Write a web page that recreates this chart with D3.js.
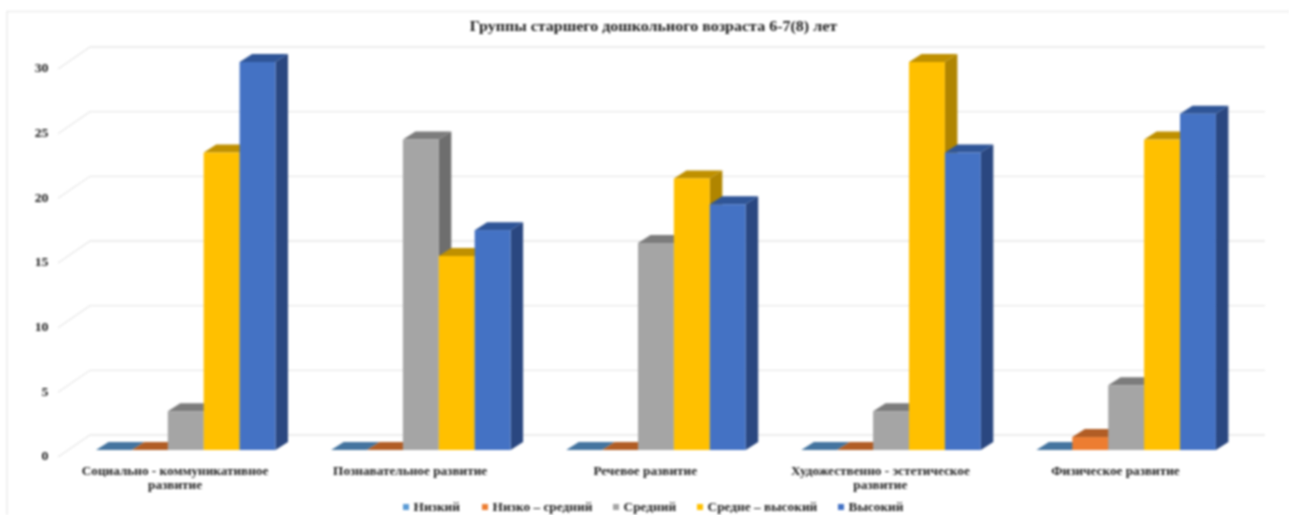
<!DOCTYPE html>
<html><head><meta charset="utf-8">
<script src="https://cdn.jsdelivr.net/npm/d3@7"></script>
<style>html,body{margin:0;padding:0;background:#fff;overflow:hidden}svg{display:block;filter:blur(0.9px)}text{font-family:"Liberation Serif",serif;font-weight:bold;fill:#1a1a1a}</style>
</head><body><svg id="c" width="1289" height="515"></svg>
<script>
const categories=["Социально - коммуникативное развитие","Познавательное развитие","Речевое развитие","Художественно - эстетическое развитие","Физическое развитие"];
const categoryLines=[["Социально - коммуникативное","развитие"],["Познавательное развитие"],["Речевое развитие"],["Художественно - эстетическое","развитие"],["Физическое развитие"]];
const seriesNames=["Низкий","Низко – средний","Средний","Средне – высокий","Высокий"];
const low=[0,0,0,0,0];
const lowMid=[0,0,0,0,1];
const mid=[3,24,16,3,5];
const midHigh=[23,15,21,30,24];
const high=[30,17,19,23,26];
const seriesValues=[low,lowMid,mid,midHigh,high];
const frontColors=["#5b9bd5","#ed7d31","#a5a5a5","#ffc000","#4472c4"];
const topColors=["#44749f","#b15d25","#7c7c7c","#bf9000","#2f5597"];
const sideColors=["#2f5f8a","#a0521f","#6e6e6e","#b08500","#2a4780"];
const yTicks=[0,5,10,15,20,25,30];

const widen=(sel,k)=>sel.each(function(){
  const n=this.getComputedTextLength();
  d3.select(this).attr("textLength",n*k).attr("lengthAdjust","spacingAndGlyphs");
});

const svg=d3.select("#c");
const root=svg.append("g");

root.append("path").attr("d","M7,515L7,11.5L1289,11.5").attr("fill","none").attr("stroke","#ececec").attr("stroke-width",1.6);

const depthX=12.5,depthY=8;
const y=d3.scaleLinear().domain([0,30]).range([450,62]);
const x0=d3.scaleBand().domain(categories).range([60.5,1236]).padding(0);
const x1=d3.scaleBand().domain(seriesNames).range([0,179.5]);
const groupOffset=35.5;

// back wall gridlines and side wall lines
const backX0=90,backX1=1265,sideX0=58;
const backY=v=>y(v)-15;
const sideY=v=>y(v)+7;
root.append("g").selectAll("path").data(yTicks).join("path")
  .attr("d",v=>`M${sideX0},${sideY(v)}L${backX0},${backY(v)}L${backX1},${backY(v)}`)
  .attr("fill","none").attr("stroke","#e8e8e8").attr("stroke-width",1.3);

// y labels through an axis
const axis=d3.axisLeft(d3.scaleLinear().domain([0,30]).range([y(0)+6,y(30)+6])).tickValues(yTicks).tickSize(0).tickPadding(0);
const ax=root.append("g").attr("transform","translate(48.5,0)").call(axis);
ax.select(".domain").remove();
ax.selectAll("text").attr("font-size",12).attr("font-family","Liberation Serif").call(widen,1.15);

// bars: drawn series by series, left to right
const bars=root.append("g");
categories.forEach((c,ci)=>{
  seriesNames.forEach((s,si)=>{
    const v=seriesValues[si][ci];
    const xl=x0(c)+groupOffset+x1(s),w=x1.bandwidth(),yt=y(v),yb=y(0);
    const g=bars.append("g");
    g.append("path").attr("fill",sideColors[si])
      .attr("d",`M${xl+w},${yt}L${xl+w+depthX},${yt-depthY}L${xl+w+depthX},${yb-depthY}L${xl+w},${yb}Z`);
    g.append("path").attr("fill",topColors[si])
      .attr("d",`M${xl},${yt}L${xl+depthX},${yt-depthY}L${xl+w+depthX},${yt-depthY}L${xl+w},${yt}Z`);
    if(v>0) g.append("rect").attr("x",xl).attr("y",yt).attr("width",w).attr("height",yb-yt).attr("fill",frontColors[si]);
  });
});

// category labels
const labels=root.append("g");
categories.forEach((c,ci)=>{
  const cx=x0(c)+x0.bandwidth()/2-3;
  categoryLines[ci].forEach((l,i)=>{
    labels.append("text").attr("text-anchor","middle").attr("font-size",11.5)
      .attr("x",cx).attr("y",474.5+i*14.5).text(l).call(widen,1.15);
  });
});

// title
root.append("text").attr("x",653.5).attr("y",31).attr("text-anchor","middle").attr("font-size",14)
  .text("Группы старшего дошкольного возраста 6-7(8) лет").call(widen,1.143);

// legend
const legendX=[403,482,613,697,838];
const leg=root.append("g");
seriesNames.forEach((s,i)=>{
  leg.append("rect").attr("x",legendX[i]).attr("y",504).attr("width",6).attr("height",6).attr("fill",frontColors[i]);
  leg.append("text").attr("x",legendX[i]+10.5).attr("y",511).attr("font-size",11.5).text(s).call(widen,1.16);
});
</script></body></html>
